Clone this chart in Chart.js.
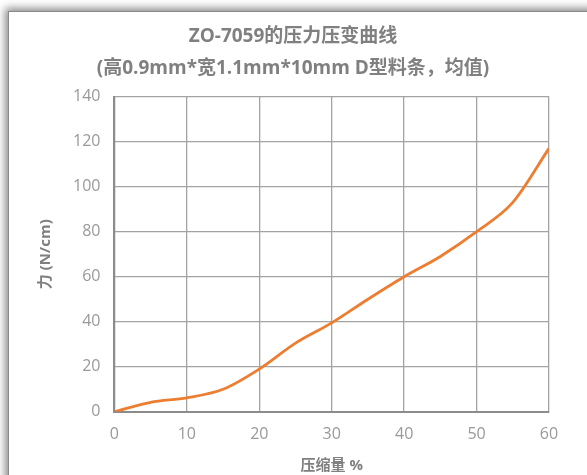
<!DOCTYPE html>
<html><head><meta charset="utf-8">
<script src="https://cdn.jsdelivr.net/npm/chart.js@4"></script>
<style>
html,body{margin:0;padding:0;background:#fff;overflow:hidden;}
#frame{position:absolute;left:8px;top:11px;width:700px;height:600px;background:#fff;border-left:1px solid #8a8a8a;border-top:1px solid #8a8a8a;box-shadow:-3px -3px 8px rgba(0,0,0,0.45);}
#wrap{position:absolute;left:0;top:0;width:587px;height:475px;}
</style></head>
<body>
<div id="frame"></div>
<div id="wrap"><canvas id="c" width="587" height="475"></canvas></div>
<script>
const compression = [0, 5, 10, 15, 20, 25, 30, 35, 40, 45, 50, 55, 60];
const force = [0, 4.2, 6.2, 10, 19, 30.5, 39.5, 50, 60, 69, 80, 93, 117];
const yTicks = [0, 20, 40, 60, 80, 100, 120, 140];
const xTicks = [0, 10, 20, 30, 40, 50, 60];
const titleLines = ['ZO-7059的压力压变曲线', '(高0.9mm*宽1.1mm*10mm D型料条，均值)'];

const grey = '#999999';
const titleGrey = '#808080';
const font = "'Open Sans','Noto Sans CJK SC',sans-serif";
Chart.defaults.font.family = font;

new Chart(document.getElementById('c'), {
  type: 'line',
  data: {
    datasets: [{
      data: compression.map((x, i) => ({x: x, y: force[i]})),
      borderColor: '#ED7D31',
      borderWidth: 2.8,
      pointRadius: 0,
      tension: 0.4,
      cubicInterpolationMode: 'monotone',
      fill: false
    }]
  },
  options: {
    responsive: false,
    animation: false,
    devicePixelRatio: 1,
    layout: {padding: {left: 37, right: 38, top: 6, bottom: 0}},
    plugins: {
      legend: {display: false},
      tooltip: {enabled: false},
      title: {
        display: true,
        text: titleLines,
        color: titleGrey,
        font: {size: 19, weight: 'bold', family: font, lineHeight: 1.7},
        padding: {top: 14, bottom: 12}
      }
    },
    scales: {
      x: {
        type: 'linear',
        min: 0, max: 60,
        afterBuildTicks: s => { s.ticks = xTicks.map(v => ({value: v})); },
        grid: {color: '#a3a3a3', lineWidth: 1.3, drawTicks: false},
        border: {color: '#8c8c8c', width: 2},
        ticks: {color: grey, font: {size: 16}, padding: 13},
        title: {display: true, text: '压缩量 %', color: titleGrey, font: {size: 15, weight: 'bold'}, padding: {top: 0, bottom: 0}}
      },
      y: {
        min: 0, max: 140,
        afterBuildTicks: s => { s.ticks = yTicks.map(v => ({value: v})); },
        grid: {color: '#a3a3a3', lineWidth: 1.3, drawTicks: false},
        border: {color: '#8c8c8c', width: 2},
        ticks: {color: grey, font: {size: 16}, padding: 14},
        title: {display: true, text: '力 (N/cm)', color: titleGrey, font: {size: 15, weight: 'bold'}, padding: {top: 0, bottom: 4}}
      }
    }
  }
});
</script>
</body></html>
